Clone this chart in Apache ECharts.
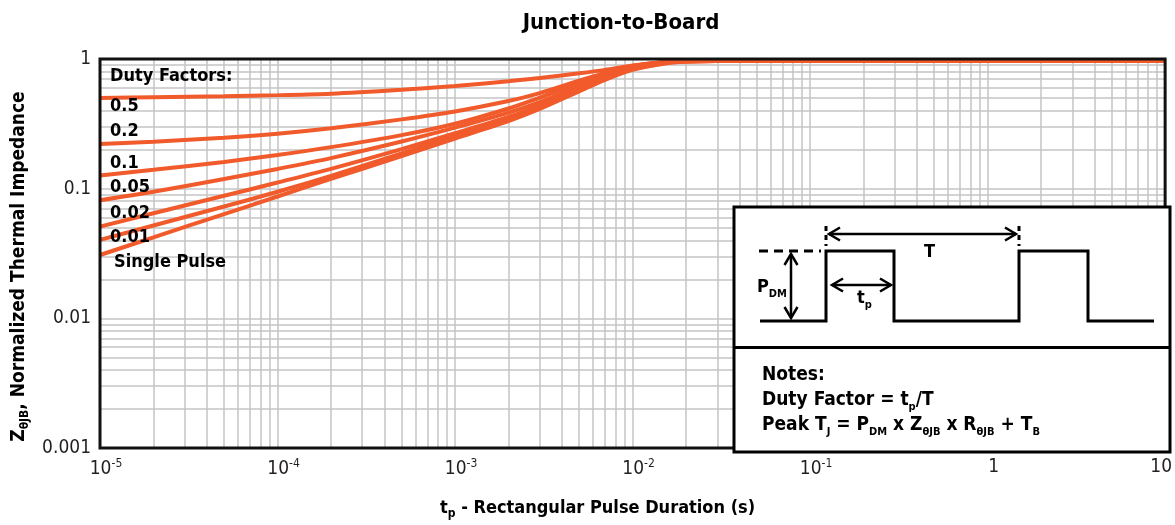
<!DOCTYPE html>
<html><head><meta charset="utf-8">
<script src="https://cdn.jsdelivr.net/npm/echarts@6/dist/echarts.min.js"></script>
<style>html,body{margin:0;padding:0;background:#fff}#c{width:1175px;height:525px}</style>
</head><body><div id="c"></div>
<script>
// ---------- data ----------
const tp = [1e-5, 2e-5, 5e-5, 1e-4, 2e-4, 5e-4, 1e-3, 2e-3, 3e-3, 5e-3, 7e-3, 1e-2, 1.5e-2, 2e-2, 3e-2, 5e-2, 1e-1, 1, 10];
const dutyNames = ['0.5', '0.2', '0.1', '0.05', '0.02', '0.01', 'Single Pulse'];
const z_d050   = [0.5012, 0.5074, 0.5164, 0.5265, 0.5405, 0.5799, 0.6189, 0.6734, 0.7123, 0.7750, 0.8243, 0.8920, 0.9437, 0.9587, 0.9638, 0.9655, 0.9655, 0.9655, 0.9655];
const z_d020   = [0.2206, 0.2305, 0.2473, 0.2653, 0.2922, 0.3423, 0.3939, 0.4738, 0.5453, 0.6793, 0.7819, 0.8842, 0.9403, 0.9621, 0.9655, 0.9655, 0.9655, 0.9655, 0.9655];
const z_d010   = [0.1263, 0.1397, 0.1607, 0.1818, 0.2092, 0.2588, 0.3168, 0.4153, 0.5038, 0.6501, 0.7683, 0.8796, 0.9486, 0.9655, 0.9655, 0.9655, 0.9655, 0.9655, 0.9655];
const z_d005   = [0.0814, 0.0947, 0.1186, 0.1419, 0.1721, 0.2309, 0.2953, 0.3857, 0.4656, 0.6167, 0.7443, 0.8688, 0.9437, 0.9638, 0.9655, 0.9655, 0.9655, 0.9655, 0.9655];
const z_d002   = [0.0510, 0.0646, 0.0881, 0.1115, 0.1421, 0.2020, 0.2676, 0.3570, 0.4377, 0.5933, 0.7211, 0.8492, 0.9370, 0.9621, 0.9655, 0.9655, 0.9655, 0.9655, 0.9655];
const z_d001   = [0.0403, 0.0520, 0.0728, 0.0947, 0.1257, 0.1873, 0.2552, 0.3453, 0.4264, 0.5809, 0.7098, 0.8403, 0.9321, 0.9587, 0.9655, 0.9655, 0.9655, 0.9655, 0.9655];
const z_single = [0.0308, 0.0421, 0.0637, 0.0870, 0.1188, 0.1783, 0.2438, 0.3322, 0.4116, 0.5628, 0.6913, 0.8243, 0.9207, 0.9536, 0.9638, 0.9655, 0.9655, 0.9655, 0.9655];
const xTickExp = [-5, -4, -3, -2, -1, 0, 1];
const yTickLabels = {'-3': '0.001', '-2': '0.01', '-1': '0.1', '0': '1'};
const minorMult = [2, 3, 4, 5, 6, 7, 8, 9];

// ---------- styles ----------
const FONT = '"Liberation Sans Narrow","DejaVu Sans Condensed","Arial Narrow",sans-serif';
const ORANGE = '#F15A2B';
const GRIDC = '#c4c4c4';
const INK = '#231f20';
const X_MIN = 1e-5, X_MAX = 10, Y_MIN = 0.001, Y_MAX = 1;

const curves = [z_d050, z_d020, z_d010, z_d005, z_d002, z_d001, z_single];
const series = curves.map((arr, i) => ({
  type: 'line', name: dutyNames[i], data: tp.map((t, j) => [t, arr[j]]),
  showSymbol: false, smooth: 0.3, silent: true, z: 3,
  lineStyle: { color: ORANGE, width: 4 }
}));

// minor log grid lines (2..9 of every decade), drawn through the axes
const minorX = [], minorY = [];
for (let e = -5; e < 1; e++) minorMult.forEach(k => minorX.push(k * Math.pow(10, e)));
for (let e = -3; e < 0; e++) minorMult.forEach(k => minorY.push(k * Math.pow(10, e)));
series.unshift({
  type: 'lines', coordinateSystem: 'cartesian2d', silent: true, z: 1, polyline: false,
  lineStyle: { color: GRIDC, width: 1.5, opacity: 1 },
  data: minorX.map(v => ({ coords: [[v, Y_MIN], [v, Y_MAX]] }))
    .concat(minorY.map(v => ({ coords: [[X_MIN, v], [X_MAX, v]] })))
});

// ---------- graphics ----------
const g = [];
const T = (x, y, text, size, opts = {}) => g.push(Object.assign({
  type: 'text', x, y, z: 20, silent: true,
  style: Object.assign({ text, fontFamily: FONT, fontSize: size, fontWeight: 'bold', fill: '#000',
    align: 'left', verticalAlign: 'middle' }, opts)
}));
const L = (pts, w, dash) => g.push({ type: 'polyline', z: 21, silent: true,
  shape: { points: pts }, style: { stroke: '#000', lineWidth: w, fill: null, lineDash: dash || null } });

// title
T(621, 23, 'Junction-to-Board', 22, { align: 'center' });
// duty factor annotations
const labelY = [76, 106, 131, 163, 187, 213, 237, 262];
T(110, labelY[0], 'Duty Factors:', 18);
dutyNames.forEach((n, i) => T(i === 6 ? 114 : 110, labelY[i + 1], n, 18));

// inset box
g.push({ type: 'rect', z: 15, silent: true, shape: { x: 734, y: 207, width: 436, height: 245 },
  style: { fill: '#fff', stroke: '#000', lineWidth: 3 } });
L([[734, 347.5], [1170, 347.5]], 3);
// waveform
L([[760, 321], [826, 321], [826, 251], [894, 251], [894, 321], [1019, 321], [1019, 251], [1088, 251], [1088, 321], [1154, 321]], 3);
L([[759, 251], [821, 251]], 3, [9, 6]);
L([[826, 226], [826, 246]], 3, [5, 4]);
L([[1019, 226], [1019, 246]], 3, [5, 4]);
// T arrow
L([[829, 234], [1016, 234]], 2.5);
L([[840, 227.5], [829, 234], [840, 240.5]], 2.5);
L([[1005, 227.5], [1016, 234], [1005, 240.5]], 2.5);
// PDM arrow
L([[791, 254], [791, 318]], 2.5);
L([[784.5, 265], [791, 254], [797.5, 265]], 2.5);
L([[784.5, 307], [791, 318], [797.5, 307]], 2.5);
// tp arrow
L([[832, 285], [891, 285]], 2.5);
L([[843, 278.5], [832, 285], [843, 291.5]], 2.5);
L([[880, 278.5], [891, 285], [880, 291.5]], 2.5);
const sub = { fontFamily: FONT, fontSize: 11, fontWeight: 'bold', fill: '#000', verticalAlign: 'bottom', lineHeight: 26 };
const main = { fontFamily: FONT, fontSize: 18, fontWeight: 'bold', fill: '#000', lineHeight: 26 };
T(924, 252, 'T', 18);
T(757, 287, '{m|P}{s|DM}', 18, { rich: { m: main, s: sub } });
T(857, 298, '{m|t}{s|p}', 18, { rich: { m: main, s: sub } });
// notes
const nMain = Object.assign({}, main, { fontSize: 19 });
const nSub = Object.assign({}, sub, { fontSize: 11 });
T(762, 375, 'Notes:', 19);
T(762, 400, '{m|Duty Factor = t}{s|p}{m|/T}', 19, { rich: { m: nMain, s: nSub } });
T(762, 425, '{m|Peak T}{s|J}{m| = P}{s|DM}{m| x Z}{s|θJB}{m| x R}{s|θJB}{m| + T}{s|B}', 19, { rich: { m: nMain, s: nSub } });

const option = {
  animation: false,
  backgroundColor: '#fff',
  grid: { left: 100, right: 5, top: 59, bottom: 73, show: true, borderColor: '#111', borderWidth: 3, z: 4 },
  xAxis: {
    type: 'log', logBase: 10, min: X_MIN, max: X_MAX,
    axisLine: { show: false }, axisTick: { show: false },
    splitLine: { show: true, lineStyle: { color: GRIDC, width: 1.5 } },
    axisLabel: {
      margin: 10, padding: [0, 0, 0, 12], color: INK, fontFamily: FONT, fontSize: 19,
      formatter: v => {
        const e = Math.round(Math.log10(v));
        if (xTickExp.indexOf(e) < 0) return '';
        if (e === 0) return '1';
        if (e === 1) return '{last|10}';
        return '10{sup|' + e + '}';
      },
      rich: {
        sup: { fontFamily: FONT, fontSize: 12, color: INK, verticalAlign: 'top', lineHeight: 22 },
        last: { fontFamily: FONT, fontSize: 19, color: INK, padding: [0, 20, 0, 0] }
      }
    },
    name: '{m|t}{s|p}{m| - Rectangular Pulse Duration (s)}',
    nameLocation: 'middle', nameGap: 48,
    nameTextStyle: {
      padding: [0, 70, 0, 0],
      rich: {
        m: { fontFamily: FONT, fontSize: 18, fontWeight: 'bold', color: '#000', lineHeight: 24 },
        s: { fontFamily: FONT, fontSize: 12, fontWeight: 'bold', color: '#000', verticalAlign: 'bottom', lineHeight: 24 }
      }
    }
  },
  yAxis: {
    type: 'log', logBase: 10, min: Y_MIN, max: Y_MAX,
    axisLine: { show: false }, axisTick: { show: false },
    splitLine: { show: true, lineStyle: { color: GRIDC, width: 1.5 } },
    axisLabel: {
      margin: 9, color: INK, fontFamily: FONT, fontSize: 19,
      formatter: v => yTickLabels[String(Math.round(Math.log10(v)))] || ''
    },
    name: '{m|Z}{s|θJB}{m|, Normalized Thermal Impedance}',
    nameLocation: 'middle', nameGap: 66,
    nameTextStyle: {
      padding: [0, 26, 0, 0],
      rich: {
        m: { fontFamily: FONT, fontSize: 19, fontWeight: 'bold', color: '#000', lineHeight: 24 },
        s: { fontFamily: FONT, fontSize: 12, fontWeight: 'bold', color: '#000', verticalAlign: 'bottom', lineHeight: 24 }
      }
    }
  },
  series,
  graphic: { elements: g }
};
const chart = echarts.init(document.getElementById('c'));
chart.setOption(option);
</script></body></html>
